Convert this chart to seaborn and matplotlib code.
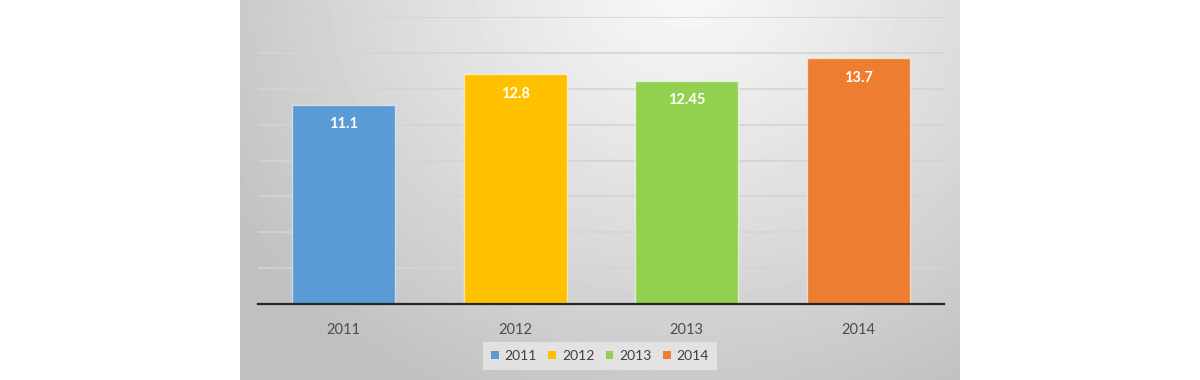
import numpy as np
import pandas as pd
import matplotlib
matplotlib.use("Agg")
import matplotlib.pyplot as plt
import seaborn as sns

years = ["2011", "2012", "2013", "2014"]
values = [11.1, 12.8, 12.45, 13.7]
labels = ["11.1", "12.8", "12.45", "13.7"]
colors = ["#5B9BD5", "#FFC000", "#92D050", "#ED7D31"]

sns.set_theme(style="white")
plt.rcParams['font.family'] = ['Lato', 'DejaVu Sans']

df = pd.DataFrame({"year": years, "value": values})

fig = plt.figure(figsize=(12, 3.8), dpi=100)
fig.patch.set_facecolor("white")

# gradient background panel
bg = fig.add_axes([0.2, 0.0, 0.6, 1.0], zorder=-10)
h, w = 380, 720
yy, xx = np.mgrid[0:h, 0:w]
cx, cy = 0.62 * w, -0.05 * h
r = np.sqrt(((xx - cx) / (0.75 * w)) ** 2 + ((yy - cy) / (1.25 * h)) ** 2)
r = np.clip(r, 0, 1)
light, dark = 0.975, 0.75
img = light - (light - dark) * r ** 1.1
bg.imshow(img, cmap="gray", vmin=0, vmax=1, aspect="auto", interpolation="bilinear")
bg.axis("off")

ax = fig.add_axes([0.215, 0.2, 0.5717, 0.755])
ax.set_facecolor("none")
sns.barplot(data=df, x="year", y="value", hue="year", palette=colors,
            dodge=False, width=0.6, ax=ax, legend=True, saturation=1,
            edgecolor=(1, 1, 1, 0.55), linewidth=1.0, zorder=3)

ax.set_ylim(0, 16)
ax.set_xlim(-0.5, 3.5)
ax.set_yticks(np.arange(0, 17, 2))
ax.yaxis.grid(True, color="#d4d4d4", linewidth=1.2, zorder=0)
ax.set_axisbelow(True)
ax.tick_params(axis="y", left=False, labelleft=False)
ax.tick_params(axis="x", bottom=False, colors="#4d4d4d", labelsize=10.5, pad=8)
for s in ["top", "right", "left"]:
    ax.spines[s].set_visible(False)
ax.spines["bottom"].set_color("#262626")
ax.spines["bottom"].set_linewidth(1.6)
ax.spines["bottom"].set_zorder(5)
ax.set_xlabel("")
ax.set_ylabel("")

for i, (v, lab) in enumerate(zip(values, labels)):
    ax.annotate(lab, (i, v), xytext=(0, -14), textcoords="offset points",
                ha="center", va="center", color="white", fontsize=10.5,
                fontweight="bold", zorder=6)

leg = ax.legend(loc="center", bbox_to_anchor=(0.5, 0.063),
                bbox_transform=fig.transFigure, ncol=4, frameon=True,
                handlelength=0.55, handleheight=0.55, handletextpad=0.45,
                columnspacing=0.8, fontsize=10, borderpad=0.6,
                borderaxespad=0)
frame = leg.get_frame()
frame.set_facecolor("#e8e8e8")
frame.set_alpha(0.8)
frame.set_edgecolor("none")
frame.set_boxstyle("square", pad=0.0)
for t in leg.get_texts():
    t.set_color("#404040")
for hnd in leg.legend_handles:
    hnd.set_edgecolor("none")

fig.savefig("out.png", dpi=100)
